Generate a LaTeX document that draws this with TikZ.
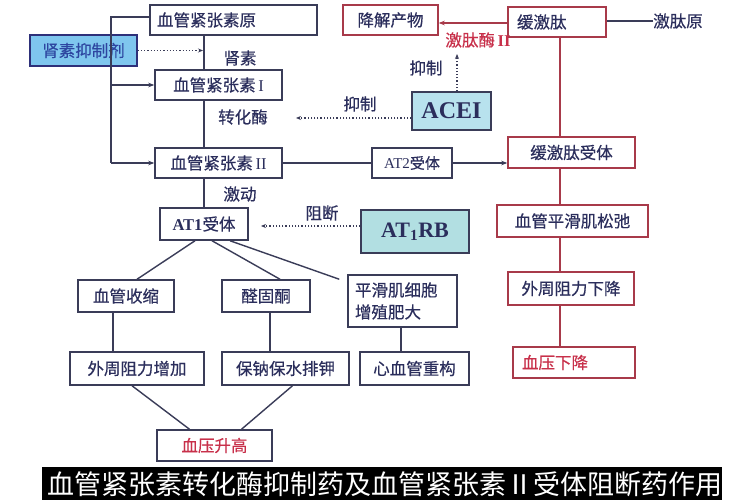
\documentclass[tikz,border=0pt]{standalone}
\usepackage{fontspec}
\setmainfont{Liberation Serif}
\newfontfamily\cjk[FakeBold=0.5]{Noto Sans CJK SC}
\newfontfamily\cjkthin{Noto Sans CJK SC}
\usetikzlibrary{arrows.meta}
\definecolor{txt}{HTML}{2B2E5C}
\definecolor{bord}{HTML}{3A3C58}
\definecolor{redc}{HTML}{C8304A}
\definecolor{redb}{HTML}{A83A4A}
\definecolor{bluefill}{HTML}{7FC6EE}
\definecolor{bluetxt}{HTML}{2D45A0}
\definecolor{cyanfill}{HTML}{B8E2EE}
\definecolor{cyanfillb}{HTML}{B2DFE2}
\begin{document}
\begin{tikzpicture}[x=1pt,y=-1pt,
  box/.style={draw=bord, line width=1.5pt, inner sep=0pt, text=txt, font=\cjk\fontsize{16.5}{20}\selectfont},
  rbox/.style={box, draw=redb},
  lab/.style={text=txt, font=\cjk\fontsize{16.5}{20}\selectfont, inner sep=0pt},
  link/.style={draw=bord, line width=1.4pt},
  rlink/.style={draw=redb, line width=1.4pt},
  arr/.style={-{Stealth[length=6pt,width=4.5pt]}},
  dotarr/.style={draw=bord, line width=1.2pt, dotted, -{Stealth[length=5pt,width=4pt]}}
]
\useasboundingbox (0,0) rectangle (750,500);
\fill[white] (0,0) rectangle (750,500);

% left column boxes
\node[box, minimum width=167pt, minimum height=30pt, text width=153pt, align=left] (agt) at (233.5,20) {血管紧张素原};
\node[box, fill=bluefill, text=bluetxt, draw=bord!80!blue, minimum width=107pt, minimum height=31pt] (rinh) at (83.5,50.5) {肾素抑制剂};
\node[box, minimum width=127pt, minimum height=30pt] (agI) at (218.5,85) {血管紧张素\,{\rmfamily I}};
\node[box, minimum width=127pt, minimum height=30pt] (agII) at (218.5,163) {血管紧张素\,{\rmfamily II}};
\node[box, minimum width=88pt, minimum height=32pt] (at1) at (204,224) {{\rmfamily\bfseries AT1}受体};
\node[box, minimum width=80pt, minimum height=30pt, font=\cjk\fontsize{15}{18}\selectfont] (at2) at (412,163) {{\rmfamily AT2}受体};

% drug boxes
\node[box, fill=cyanfill, minimum width=79pt, minimum height=38pt, font=\rmfamily\bfseries\fontsize{24}{26}\selectfont] (acei) at (451.5,111) {ACEI};
\node[box, fill=cyanfillb, minimum width=108pt, minimum height=43pt, font=\rmfamily\bfseries\fontsize{22}{24}\selectfont] (at1rb) at (415,231.5) {AT\textsubscript{1}RB};

% red column
\node[rbox, minimum width=95pt, minimum height=30pt] (deg) at (390.5,20) {降解产物};
\node[rbox, minimum width=98pt, minimum height=30pt, text width=80pt, align=left] (bk) at (557,22) {缓激肽};
\node[rbox, minimum width=127pt, minimum height=31pt] (bkr) at (571.5,152.5) {缓激肽受体};
\node[rbox, minimum width=151pt, minimum height=32pt] (relax) at (572.5,221) {血管平滑肌松弛};
\node[rbox, minimum width=126pt, minimum height=33pt] (resdown) at (571,288.5) {外周阻力下降};
\node[rbox, text=redc, minimum width=122pt, minimum height=31pt, text width=104pt, align=left] (bpdown) at (574,362.5) {血压下降};

% lower left boxes
\node[box, minimum width=96pt, minimum height=32pt] (vc) at (126,296) {血管收缩};
\node[box, minimum width=88pt, minimum height=32pt] (ald) at (266,296) {醛固酮};
\node[box, minimum width=109pt, minimum height=52pt, text width=95pt, align=left, font=\cjk\fontsize{16.5}{22}\selectfont] (smc) at (402.5,301) {平滑肌细胞\\增殖肥大};
\node[box, minimum width=134pt, minimum height=33pt] (resup) at (137,368.5) {外周阻力增加};
\node[box, minimum width=127pt, minimum height=33pt] (na) at (285.5,368.5) {保钠保水排钾};
\node[box, minimum width=109pt, minimum height=33pt] (remodel) at (414.5,368.5) {心血管重构};
\node[box, text=redc, minimum width=115pt, minimum height=31pt] (bpup) at (214.5,445.5) {血压升高};

% labels
\node[lab] (lrenin) at (240,58) {肾素};
\node[lab] (lace) at (243,117) {转化酶};
\node[lab] (linh1) at (360,104) {抑制};
\node[lab] (linh2) at (426,68) {抑制};
\node[lab, text=redc] (lkin) at (478,40) {激肽酶\,{\rmfamily\bfseries II}};
\node[lab] (lkinogen) at (678,21) {激肽原};
\node[lab] (lact) at (240,194) {激动};
\node[lab] (lblock) at (322,213) {阻断};

% coordinates
\coordinate (spine) at (204,0);
\coordinate (rcol) at (560,0);
\coordinate (lbtop) at (111,17);
\coordinate (lbbot) at (111,163);
\coordinate (aceend) at (296,118);
\coordinate (kinend) at (457,54);
\coordinate (blockend) at (261,226);

% main spine
\draw[link] (agt.south -| spine) -- (agI.north -| spine);
\draw[link] (agI.south -| spine) -- (agII.north -| spine);
\draw[link] (agII.south -| spine) -- (at1.north);
\draw[dotarr] (rinh.east) -- ([xshift=-1pt]spine |- rinh.east);

% left bracket
\draw[link] (agt.west |- lbtop) -- (lbtop) -- (lbbot);
\draw[link, arr] (lbbot) -- (agII.west);
\draw[link, arr] (lbtop |- agI.west) -- (agI.west);

% ACEI inhibitions
\draw[dotarr] ([yshift=-7pt]acei.west) -- (aceend);
\draw[dotarr] (acei.north -| kinend) -- (kinend);

% AT2 path
\draw[link] (agII.east) -- (at2.west);
\draw[link, arr] (at2.east) -- (bkr.west |- at2.east);

% AT1RB block
\draw[dotarr] ([yshift=5.5pt]at1rb.west) -- (blockend);

% kinin
\draw[rlink, arr] (bk.west |- 0,23) -- (deg.east |- 0,23);
\draw[link] (lkinogen.west) -- (bk.east |- lkinogen.west);
\draw[rlink] (bk.south -| rcol) -- (bkr.north -| rcol);
\draw[rlink] (bkr.south -| rcol) -- (relax.north -| rcol);
\draw[rlink] (relax.south -| rcol) -- (resdown.north -| rcol);
\draw[rlink] (resdown.south -| rcol) -- (bpdown.north -| rcol);

% AT1 branches
\draw[link] ([xshift=-9pt]at1.south) -- ([xshift=11pt]vc.north);
\draw[link] ([xshift=8pt]at1.south) -- ([xshift=14pt]ald.north);
\draw[link] ([xshift=26pt]at1.south) -- ([xshift=-8pt,yshift=-5pt]smc.north west);
\draw[link] (vc.south -| 113,0) -- (resup.north -| 113,0);
\draw[link] (ald.south -| 270,0) -- (na.north -| 270,0);
\draw[link] (smc.south -| 401,0) -- (remodel.north -| 401,0);
\draw[link] ([xshift=-5pt]resup.south) -- ([xshift=-25pt]bpup.north);
\draw[link] ([xshift=7pt]na.south) -- ([xshift=27pt]bpup.north);

% caption
\fill[black] (42,467) rectangle (722,500);
\node[anchor=west, inner sep=0pt, text=white, font=\cjkthin\fontsize{27}{30}\selectfont] (cap) at (47,484) {血管紧张素转化酶抑制药及血管紧张素Ⅱ受体阻断药作用};
\end{tikzpicture}
\end{document}
